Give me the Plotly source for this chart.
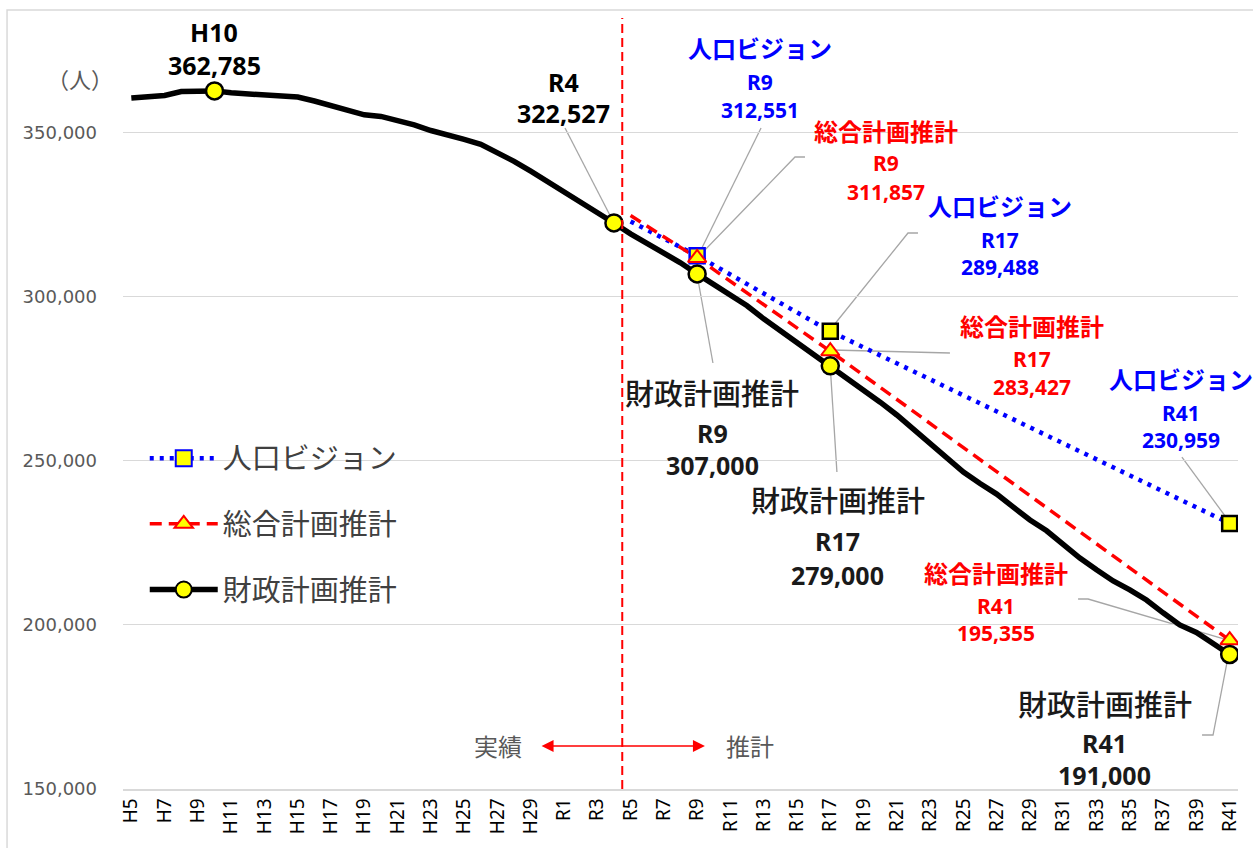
import plotly.graph_objects as go

# ---- data -------------------------------------------------------------
years = [f"H{n}" for n in range(5, 31)] + [f"R{n}" for n in range(1, 42)]

# 財政計画推計 (actuals through R4, projection after)
fiscal = [
    360600, 360900, 361400, 362600, 362750, 362785, 362200, 361900, 361800, 361400,
    360900, 359700, 358300, 356900, 355500, 355000, 353900, 352400, 350700, 349500,
    348000, 346500, 344000, 341300, 338300, 335200,
    332000, 328900, 325700, 322527, 319200, 316300, 313600, 310400, 307000, 303600,
    300300, 297300, 293300, 289700, 286400, 282600, 279000, 275400, 271600, 267900,
    264000, 259700, 255500, 251200, 246600, 243100, 239900, 235900, 232000, 228700,
    224400, 220400, 216800, 213400, 210700, 207600, 203700, 200000, 197700, 194500,
    191000,
]

# 人口ビジョン
vision_years = ["R5", "R9", "R17", "R41"]
vision_vals = [323000, 312551, 289488, 230959]

# 総合計画推計
plan_years = ["R5", "R9", "R17", "R41"]
plan_vals = [324800, 311857, 283427, 195355]

fiscal_marked = ["H10", "R4", "R9", "R17", "R41"]
proj_marked = ["R9", "R17", "R41"]

NAME_V = "人口ビジョン"
NAME_P = "総合計画推計"
NAME_F = "財政計画推計"

BLUE = "#0000ff"
RED = "#ff0000"
YELLOW = "#ffff00"
GRID = "#d9d9d9"
LEADER = "#a6a6a6"
JP = "Noto Sans CJK JP"
JP_MED = "Noto Sans CJK JP Medium, Noto Sans CJK JP"
NUM = "Noto Sans"

pos = {y: i for i, y in enumerate(years)}
fiscal_by_year = dict(zip(years, fiscal))
vision_by_year = dict(zip(vision_years, vision_vals))
plan_by_year = dict(zip(plan_years, plan_vals))

DOT = "4px,6px"
DASH = "12px,7px"

fig = go.Figure()

# ---- lines ------------------------------------------------------------
fig.add_trace(go.Scatter(
    x=[pos[y] for y in vision_years], y=vision_vals, mode="lines",
    line=dict(color=BLUE, width=4.5, dash=DOT), showlegend=False, hoverinfo="skip"))
fig.add_trace(go.Scatter(
    x=[pos[y] for y in plan_years], y=plan_vals, mode="lines",
    line=dict(color=RED, width=3.5, dash=DASH), showlegend=False, hoverinfo="skip"))
fig.add_trace(go.Scatter(
    x=list(range(len(years))), y=fiscal, mode="lines",
    line=dict(color="black", width=5.5), showlegend=False, hoverinfo="skip"))

# ---- markers at labelled years -----------------------------------------
fig.add_trace(go.Scatter(
    x=[pos[y] for y in proj_marked], y=[vision_by_year[y] for y in proj_marked],
    mode="markers", showlegend=False, hoverinfo="skip",
    marker=dict(symbol="square", size=15, color=YELLOW,
                line=dict(color=[BLUE, "black", "black"], width=2.5))))
fig.add_trace(go.Scatter(
    x=[pos[y] for y in proj_marked], y=[plan_by_year[y] for y in proj_marked],
    mode="markers", showlegend=False, hoverinfo="skip",
    marker=dict(symbol="triangle-up", size=16, color=YELLOW,
                line=dict(color=RED, width=2))))
fig.add_trace(go.Scatter(
    x=[pos[y] for y in fiscal_marked], y=[fiscal_by_year[y] for y in fiscal_marked],
    mode="markers", showlegend=False, hoverinfo="skip",
    marker=dict(symbol="circle", size=17, color=YELLOW,
                line=dict(color="black", width=2.5))))

# ---- legend entries -------------------------------------------------------
for name, lcol, lw, dash, sym, mline, group in [
    (NAME_V, BLUE, 4.5, DOT, "square", BLUE, "a"),
    (NAME_P, RED, 3.5, DASH, "triangle-up", RED, "b"),
    (NAME_F, "black", 5.5, "solid", "circle", "black", "c"),
]:
    fig.add_trace(go.Scatter(
        x=[None], y=[None], mode="lines+markers", name=name, legendgroup=group,
        line=dict(color=lcol, width=lw, dash=dash),
        marker=dict(symbol=sym, size=16, color=YELLOW, line=dict(color=mline, width=2))))

# ---- labels ----------------------------------------------------------------
annotations = []


def label(x, y, text, color, size, bold=False, family=JP):
    annotations.append(dict(
        x=x, y=y, xref="x", yref="y", text=f"<b>{text}</b>" if bold else text,
        showarrow=False, xanchor="center", yanchor="middle",
        font=dict(family=family, size=size, color=color)))


def block(x, ys, heading, year, value, color, big):
    ns = 25 if big else 21
    if heading:
        if big:
            label(x, ys[0], heading, color, 29, family=JP_MED)
        else:
            label(x, ys[0], heading, color, 24, bold=True)
        ys = ys[1:]
    label(x, ys[0], year, color, ns, bold=True, family=NUM)
    label(x, ys[1], f"{value:,}", color, ns, bold=True, family=NUM)


block(4.97, [380730, 370675], None, "H10", fiscal_by_year["H10"], "black", True)
block(25.94, [365490, 356044], None, "R4", fiscal_by_year["R4"], "black", True)
block(37.78, [376160, 365490, 356960], NAME_V, "R9", vision_by_year["R9"], BLUE, False)
block(45.35, [350860, 340800, 331965], NAME_P, "R9", plan_by_year["R9"], RED, False)
block(52.2, [328000, 317330, 309100], NAME_V, "R17", vision_by_year["R17"], BLUE, False)
block(54.1, [291425, 281060, 272530], NAME_P, "R17", plan_by_year["R17"], RED, False)
block(63.07, [275270, 264600, 256370], NAME_V, "R41", vision_by_year["R41"], BLUE, False)
block(51.96, [215840, 205780, 197550], NAME_P, "R41", plan_by_year["R41"], RED, False)
block(34.9, [271000, 258510, 248750], NAME_F, "R9", fiscal_by_year["R9"], "#1a1a1a", True)
block(42.46, [238390, 225590, 215230], NAME_F, "R17", fiscal_by_year["R17"], "#1a1a1a", True)
block(58.5, [176210, 164020, 154270], NAME_F, "R41", fiscal_by_year["R41"], "#1a1a1a", True)

# unit label
annotations.append(dict(x=-0.0386, y=366710, xref="paper", yref="y", text="（人）",
                        xanchor="center", yanchor="middle", showarrow=False,
                        font=dict(family=JP, size=22, color="#595959")))
# actual / projection markers under the chart
annotations.append(dict(x=22.03, y=163110, xref="x", yref="y", text="実績",
                        showarrow=False, font=dict(family=JP, size=24, color="#595959")))
annotations.append(dict(x=37.18, y=163110, xref="x", yref="y", text="推計",
                        showarrow=False, font=dict(family=JP, size=24, color="#595959")))
annotations.append(dict(x=34.47, y=163110, ax=24.56, ay=163110, xref="x", yref="y",
                        axref="x", ayref="y", text="", showarrow=True,
                        arrowside="end+start", arrowhead=2, arrowsize=1.6,
                        arrowwidth=1.5, arrowcolor=RED))

# ---- leader lines and guides ----------------------------------------------------
leaders = [
    [(26.06, 351472), (29, 322527)],
    [(37.84, 351472), (34.1, 313000)],
    [(40.48, 342633), (39.88, 342633), (34.06, 312150)],
    [(47.27, 319470), (46.67, 319470), (41.98, 289900)],
    [(49.19, 282890), (42.1, 283800)],
    [(63.13, 251190), (65.9, 231990)],
    [(56.89, 207910), (57.49, 207910), (65.9, 195410)],
    [(34.95, 279840), (34.0, 306670)],
    [(42.4, 246620), (42.0, 278620)],
    [(64.34, 166460), (65.0, 166460), (65.9, 190230)],
]
shapes = []
for pts in leaders:
    path = "M " + " L ".join(f"{x},{y}" for x, y in pts)
    shapes.append(dict(type="path", path=path, xref="x", yref="y",
                       line=dict(color=LEADER, width=1.3), layer="below"))

# boundary between actual and projected years
shapes.append(dict(type="line", x0=29.5, x1=29.5, y0=0, y1=1, xref="x", yref="paper",
                   line=dict(color=RED, width=2, dash="9px,5px")))
# chart frame
shapes.append(dict(type="rect", x0=-0.104, x1=1.2, y0=-0.3, y1=1.0104,
                   xref="paper", yref="paper", line=dict(color=GRID, width=1.5)))

fig.update_layout(
    width=1253, height=848,
    margin=dict(l=123, r=15, t=18, b=59),
    paper_bgcolor="white", plot_bgcolor="white",
    annotations=annotations, shapes=shapes,
    xaxis=dict(range=[-0.5, 66.5], tickmode="array",
               tickvals=list(range(0, len(years), 2)), ticktext=years[::2],
               tickangle=-90, showgrid=False, zeroline=False,
               showline=True, linecolor=GRID, linewidth=1.5, ticks="",
               tickfont=dict(family=NUM, size=19, color="black")),
    yaxis=dict(range=[150000, 385000], tick0=150000, dtick=50000, tickformat=",",
               showgrid=True, gridcolor=GRID, gridwidth=1.3, zeroline=False,
               showline=False, ticks="", ticklabelstandoff=25,
               tickfont=dict(family="DejaVu Sans", size=18, color="#595959")),
    legend=dict(x=0.0195, y=0.462, xanchor="left", yanchor="top",
                bgcolor="rgba(0,0,0,0)", itemwidth=68, tracegroupgap=25,
                traceorder="grouped",
                font=dict(family=JP, size=29, color="#404040")),
    showlegend=True,
)

fig.write_html("out.html")
